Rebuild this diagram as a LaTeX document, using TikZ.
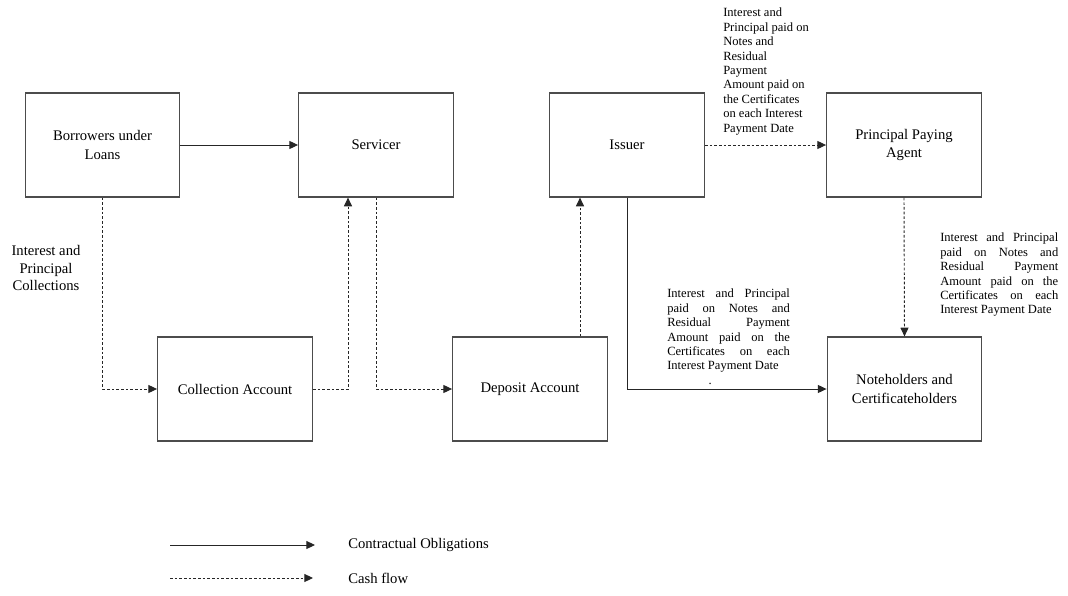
\documentclass[tikz,border=0pt]{standalone}
\usepackage{fontspec}
\setmainfont{Liberation Serif}
\usetikzlibrary{arrows.meta,calc}
\begin{document}
\begin{tikzpicture}[x=0.75pt,y=-0.75pt,
 box/.style={draw=black!70,line width=0.9pt,minimum width=116pt,minimum height=78pt,inner sep=0pt,align=center,font=\fontsize{11}{14}\selectfont},
 solidarr/.style={draw=black!85,line width=0.7pt,-{Triangle[length=6.5pt,width=6pt]}},
 casharr/.style={solidarr,dash pattern=on 2pt off 1.5pt},
 note/.style={inner sep=0pt,align=left,font=\fontsize{9.4}{10.8}\selectfont},
 lab/.style={inner sep=0pt,font=\fontsize{11}{13}\selectfont},
]
\useasboundingbox (0,0) rectangle (1068,596);

\node[box] (B) at (102.5,145) {Borrowers under\\Loans};
\node[box] (S) at (376,145) {Servicer};
\node[box] (I) at (627,145) {Issuer};
\node[box] (P) at (904,145) {Principal Paying\\Agent};
\node[box] (C) at (235,389) {Collection Account};
\node[box] (D) at (530,389) {Deposit Account};
\node[box] (N) at (904.5,389) {Noteholders and\\Certificateholders};

% connectors
\draw[solidarr] (B.east) -- (S.west);
\draw[casharr] (B.south) |- (C.west);
\coordinate (s1) at ($(S.south)+(-28,0)$);
\draw[casharr] (C.east) -| (s1);
\draw[casharr] (S.south) |- (D.west);
\coordinate (d1) at ($(D.north)+(50,0)$);
\draw[casharr] (d1) -- (d1 |- I.south);
\draw[solidarr] (I.south) |- (N.west);
\draw[casharr] (I.east) -- (P.west);
\draw[casharr] (P.south) -- (N.north);

% labels
\node[lab,align=center] (lc) at (46,268) {Interest and\\Principal\\Collections};

\node[note,anchor=north west] (t1) at (723,8) {Interest and\\Principal paid on\\Notes and\\Residual\\Payment\\Amount paid on\\the Certificates\\on each Interest\\Payment Date};

\node[note,anchor=north west] (t2) at (940,233) {\makebox[88.5pt][s]{Interest and Principal}\\\makebox[88.5pt][s]{paid on Notes and}\\\makebox[88.5pt][s]{Residual Payment}\\\makebox[88.5pt][s]{Amount paid on the}\\\makebox[88.5pt][s]{Certificates on each}\\Interest Payment Date};

\node[note,anchor=north west] (t3) at (667,289) {\makebox[92pt][s]{Interest and Principal}\\\makebox[92pt][s]{paid on Notes and}\\\makebox[92pt][s]{Residual Payment}\\\makebox[92pt][s]{Amount paid on the}\\\makebox[92pt][s]{Certificates on each}\\Interest Payment Date\\\hspace*{31pt}.};

% legend
\coordinate (L1a) at (170,545);
\coordinate (L1b) at (315,545);
\draw[solidarr] (L1a) -- (L1b);
\node[lab,anchor=west] (L1t) at (348,545) {Contractual Obligations};
\coordinate (L2a) at (170,578);
\coordinate (L2b) at (313,578);
\draw[casharr] (L2a) -- (L2b);
\node[lab,anchor=west] (L2t) at (348,578) {Cash flow};
\end{tikzpicture}
\end{document}
